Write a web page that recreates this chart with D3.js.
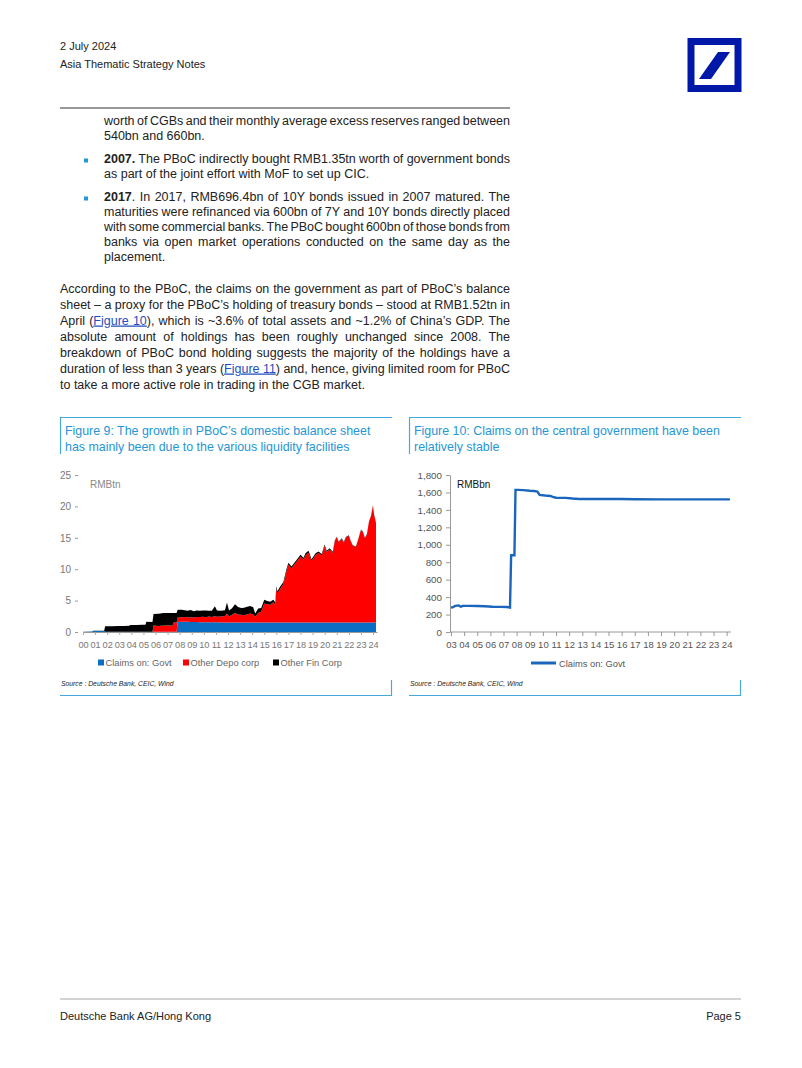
<!DOCTYPE html>
<html>
<head>
<meta charset="utf-8">
<script src="https://cdn.jsdelivr.net/npm/d3@7"></script>
<style>
  body { margin: 0; background: #fff; }
  svg { display: block; font-family: "Liberation Sans", Arial, sans-serif; }
</style>
</head>
<body>
<svg id="page" width="802" height="1068"></svg>
<script>
// ---- Figure 9 data (RMBtn) ----
const f9Dates = [
  "2000-01","2000-10","2000-11","2001-10","2001-11","2002-06","2002-12","2003-06","2003-11","2003-12",
  "2004-06","2004-12","2005-03","2005-04","2005-10","2005-11","2006-04","2006-09","2007-02","2007-06",
  "2007-07","2007-10","2007-11","2008-03","2008-06","2008-09","2008-12","2009-03","2009-06","2009-09",
  "2009-12","2010-03","2010-06","2010-09","2010-12","2011-02","2011-06","2011-10","2011-12","2012-02",
  "2012-05","2012-08","2012-11","2013-02","2013-05","2013-08","2013-11","2014-02","2014-04","2014-07",
  "2014-10","2015-01","2015-04","2015-07","2015-10","2015-12","2016-01","2016-02","2016-05","2016-08",
  "2016-11","2017-01","2017-04","2017-06","2017-10","2018-01","2018-04","2018-06","2018-09","2018-12",
  "2019-04","2019-07","2019-10","2020-01","2020-03","2020-06","2020-09","2020-11","2021-01","2021-03",
  "2021-06","2021-08","2021-10","2022-01","2022-03","2022-05","2022-08","2022-10","2023-01","2023-03",
  "2023-05","2023-07","2023-09","2023-11","2024-01","2024-02","2024-04"
]
const govtTn = [
  0.02,0.02,0.15,0.15,0.02,0.02,0.02,0.02,0.02,0.02,
  0.02,0.02,0.02,0.02,0.02,0.02,0.02,0.02,0.02,0.02,
  0.02,0.02,1.60,1.62,1.62,1.62,1.61,1.61,1.60,1.57,
  1.56,1.56,1.55,1.54,1.54,1.54,1.53,1.53,1.53,1.53,
  1.53,1.53,1.53,1.53,1.53,1.53,1.53,1.53,1.53,1.53,
  1.53,1.53,1.53,1.53,1.53,1.53,1.53,1.53,1.53,1.53,
  1.53,1.53,1.53,1.53,1.53,1.52,1.52,1.52,1.52,1.52,
  1.52,1.52,1.52,1.52,1.52,1.52,1.52,1.52,1.52,1.52,
  1.52,1.52,1.52,1.52,1.52,1.52,1.52,1.52,1.52,1.52,
  1.52,1.52,1.52,1.52,1.52,1.52,1.52
]
const depoTn = [
  0,0,0,0,0,0,0,0,0,0,
  0,0,0,0,0,1.00,0.95,1.00,1.00,1.00,
  1.50,1.50,0.70,0.72,0.75,0.70,0.75,0.70,0.78,0.80,
  0.85,0.80,0.90,0.85,1.00,0.90,0.95,1.00,1.40,0.95,
  1.20,1.50,1.25,1.20,1.15,1.30,1.40,1.30,0.90,1.50,
  1.70,3.00,2.90,2.80,3.20,2.80,5.45,4.60,5.40,6.10,
  8.10,9.20,8.60,9.00,9.85,10.50,10.00,10.70,11.10,9.80,
  10.75,11.05,10.65,12.20,11.20,11.60,11.10,12.90,13.55,12.80,
  13.30,12.70,13.50,13.80,12.90,12.20,12.00,13.00,14.70,14.40,
  13.40,14.00,16.00,16.90,18.60,17.20,15.80
]
const finTn = [
  0.03,0.04,0.05,0.06,0.88,0.90,0.93,0.92,0.96,1.08,
  1.10,1.12,1.12,1.60,1.58,1.85,1.95,2.00,2.00,2.00,
  1.50,1.50,1.25,1.20,1.10,1.05,1.15,1.00,1.05,1.00,
  1.00,1.05,0.95,1.00,1.55,1.00,0.90,0.95,1.77,0.95,
  1.05,1.40,1.20,1.10,1.20,1.20,1.20,1.10,0.50,0.70,
  0.60,0.60,0.50,0.50,0.40,0.40,0.35,0.35,0.35,0.35,
  0.35,0.30,0.30,0.30,0.30,0.30,0.30,0.30,0.30,0.25,
  0.25,0.25,0.25,0.20,0.20,0.20,0.15,0.15,0.10,0.10,
  0.10,0.10,0.10,0.08,0.08,0.08,0.08,0.08,0.08,0.08,
  0.08,0.08,0.08,0.08,0.08,0.08,0.08
]
const f9Series = ["Claims on: Govt", "Other Depo corp", "Other Fin Corp"]
const f9YTicks = [0, 5, 10, 15, 20, 25]
const f9YearLabels = ["00","01","02","03","04","05","06","07","08","09","10","11","12",
  "13","14","15","16","17","18","19","20","21","22","23","24"]

// ---- Figure 10 data (RMBbn) ----
const f10Dates = [
  "2003-01","2003-03","2003-05","2003-08","2003-10","2003-12","2004-06","2005-01","2005-08","2006-03",
  "2006-10","2007-04","2007-07","2007-08","2007-11","2007-12","2008-02","2008-07","2009-01","2009-05",
  "2009-08","2009-10","2010-03","2010-08","2010-10","2011-01","2011-10","2012-04","2012-10","2014-01",
  "2016-01","2017-01","2019-01","2021-01","2023-01","2024-04"
]
const govtBn = [
  280,285,300,305,290,300,300,298,295,290,
  288,286,280,880,880,1630,1630,1627,1620,1617,
  1610,1572,1565,1560,1550,1540,1538,1530,1525,1525,
  1525,1522,1520,1520,1520,1520
]
const f10Series = ["Claims on: Govt"]
const f10YTicks = [0, 200, 400, 600, 800, 1000, 1200, 1400, 1600, 1800]
const f10YLabels = ["0","200","400","600","800","1,000","1,200","1,400","1,600","1,800"]
const f10YearLabels = ["03","04","05","06","07","08","09","10","11","12","13","14",
  "15","16","17","18","19","20","21","22","23","24"]

// ---- page text ----
const bulletLines = [
  { lines: [
    ["worth of CGBs and their monthly average excess reserves ranged between", true],
    ["540bn and 660bn.", false]], bullet: false },
  { lines: [
    ["**2007.** The PBoC indirectly bought RMB1.35tn worth of government bonds", true],
    ["as part of the joint effort with MoF to set up CIC.", false]], bullet: true },
  { lines: [
    ["**2017**. In 2017, RMB696.4bn of 10Y bonds issued in 2007 matured. The", true],
    ["maturities were refinanced via 600bn of 7Y and 10Y bonds directly placed", true],
    ["with some commercial banks. The PBoC bought 600bn of those bonds from", true],
    ["banks via open market operations conducted on the same day as the", true],
    ["placement.", false]], bullet: true }
]
const paraLines = [
  ["According to the PBoC, the claims on the government as part of PBoC\u2019s balance", true],
  ["sheet \u2013 a proxy for the PBoC\u2019s holding of treasury bonds \u2013 stood at RMB1.52tn in", true],
  ["April ([Figure 10]), which is ~3.6% of total assets and ~1.2% of China\u2019s GDP. The", true],
  ["absolute amount of holdings has been roughly unchanged since 2008. The", true],
  ["breakdown of PBoC bond holding suggests the majority of the holdings have a", true],
  ["duration of less than 3 years ([Figure 11]) and, hence, giving limited room for PBoC", true],
  ["to take a more active role in trading in the CGB market.", false]
]

const blueTxt = "#2596d6"
const blueLine = "#45a8df"
const svg = d3.select("#page")

// header
svg.append("text").attr("x", 60).attr("y", 50).style("font-size", "11px").attr("fill", "#222").text("2 July 2024")
svg.append("text").attr("x", 60).attr("y", 68).style("font-size", "11px").attr("fill", "#222").text("Asia Thematic Strategy Notes")

// logo
svg.append("rect").attr("x", 691).attr("y", 41.5).attr("width", 47).attr("height", 47)
  .attr("fill", "none").attr("stroke", "#0018a8").attr("stroke-width", 7)
svg.append("polygon").attr("points", "718,52 730,52 711,79 699,79").attr("fill", "#0018a8")

svg.append("line").attr("x1", 60).attr("x2", 510).attr("y1", 108).attr("y2", 108)
  .attr("stroke", "#333").attr("stroke-width", 1)

// justified line of body text
function textLine(x, y, width, str, justify) {
  const t = svg.append("text").attr("x", x).attr("y", y)
    .style("font-size", "12.5px").attr("fill", "#222")
  const parts = str.split(/(\*\*[^*]+\*\*|\[[^\]]+\])/).filter(s => s.length)
  parts.forEach(p => {
    if (p.startsWith("**")) {
      t.append("tspan").style("font-weight", "bold").text(p.slice(2, -2))
    } else if (p.startsWith("[")) {
      t.append("tspan").attr("fill", "#1f4ec0").style("text-decoration", "underline").text(p.slice(1, -1))
    } else {
      t.append("tspan").text(p)
    }
  })
  if (justify) {
    const natural = t.node().getComputedTextLength()
    const plain = str.replace(/\*\*|\[|\]/g, "")
    const spaces = (plain.match(/ /g) || []).length
    if (spaces) t.style("word-spacing", ((width - natural) / spaces) + "px")
  }
}

let yy = 124.5
bulletLines.forEach((blk, bi) => {
  if (bi > 0) yy += 8
  blk.lines.forEach((ln, li) => {
    if (blk.bullet && li === 0) {
      svg.append("rect").attr("x", 84).attr("y", yy - 4).attr("width", 4).attr("height", 4).attr("fill", blueTxt)
    }
    textLine(104, yy, 406, ln[0], ln[1])
    yy += 15
  })
})
yy = 292.5
paraLines.forEach(ln => {
  textLine(60, yy, 450, ln[0], ln[1])
  yy += 16
})

// figure frames
function figFrame(x0, x1, title) {
  svg.append("line").attr("x1", x0).attr("x2", x1).attr("y1", 417.5).attr("y2", 417.5)
    .attr("stroke", blueLine).attr("stroke-width", 1.2)
  svg.append("line").attr("x1", x0 + 0.5).attr("x2", x0 + 0.5).attr("y1", 417).attr("y2", 454)
    .attr("stroke", blueLine).attr("stroke-width", 1.2)
  title.forEach((s, i) => {
    svg.append("text").attr("x", x0 + 5).attr("y", 435 + i * 16).style("font-size", "12.4px")
      .attr("fill", blueTxt).text(s)
  })
  svg.append("text").attr("x", x0 + 1).attr("y", 686).style("font-size", "6.8px")
    .style("font-style", "italic").attr("fill", "#222").text("Source : Deutsche Bank, CEIC, Wind")
  svg.append("line").attr("x1", x0).attr("x2", x1).attr("y1", 695.5).attr("y2", 695.5)
    .attr("stroke", blueLine).attr("stroke-width", 1.2)
  svg.append("line").attr("x1", x1 - 0.5).attr("x2", x1 - 0.5).attr("y1", 680).attr("y2", 696)
    .attr("stroke", blueLine).attr("stroke-width", 1.2)
}
figFrame(60, 392, ["Figure 9: The growth in PBoC\u2019s domestic balance sheet",
  "has mainly been due to the various liquidity facilities"])
figFrame(409, 741, ["Figure 10: Claims on the central government have been",
  "relatively stable"])

// ---- Figure 9: stacked area ----
const parseM = d3.timeParse("%Y-%m")
const x9 = d3.scaleTime().domain([parseM("2000-01"), parseM("2024-05")]).range([83, 377])
const y9 = d3.scaleLinear().domain([0, 25]).range([632, 475])
const rows9 = f9Dates.map((d, i) => ({ date: parseM(d), govt: govtTn[i], depo: depoTn[i], fin: finTn[i] }))
const stacked = d3.stack().keys(["govt", "depo", "fin"])(rows9)
const colors9 = ["#0a6fc2", "#ff0000", "#000000"]
const area9 = d3.area().x(d => x9(d.data.date)).y0(d => y9(d[0])).y1(d => y9(d[1]))

const g9 = svg.append("g")
g9.selectAll("path.area").data(stacked).enter().append("path")
  .attr("class", "area").attr("d", area9).attr("fill", (d, i) => colors9[i])

const yAx9 = g9.append("g").attr("transform", "translate(78,0)")
  .call(d3.axisLeft(y9).tickValues(f9YTicks).tickSize(3).tickPadding(4))
yAx9.select(".domain").remove()
yAx9.selectAll("line").attr("stroke", "#999")
yAx9.selectAll("text").style("font-size", "10px").attr("fill", "#777").style("font-family", "Liberation Sans, Arial")

const yearDates9 = f9YearLabels.map((s, i) => new Date(2000 + i, 0, 1))
const xAx9 = g9.append("g").attr("transform", "translate(0,632)")
  .call(d3.axisBottom(x9).tickValues(yearDates9).tickSize(3).tickSizeOuter(0).tickPadding(6)
    .tickFormat((d, i) => f9YearLabels[i]))
xAx9.select(".domain").attr("stroke", "#999")
xAx9.selectAll("line").attr("stroke", "#aaa")
xAx9.selectAll("text").style("font-size", "9.2px").attr("fill", "#777").style("font-family", "Liberation Sans, Arial")

g9.append("text").attr("x", 90).attr("y", 488).style("font-size", "10px").attr("fill", "#888").text("RMBtn")

const leg9X = [98, 183, 273]
f9Series.forEach((s, i) => {
  g9.append("rect").attr("x", leg9X[i]).attr("y", 659.5).attr("width", 6).attr("height", 6).attr("fill", colors9[i])
  g9.append("text").attr("x", leg9X[i] + 7.5).attr("y", 666).style("font-size", "9.3px").attr("fill", "#666").text(s)
})

// ---- Figure 10: line ----
const x10 = d3.scaleTime().domain([parseM("2003-01"), parseM("2024-05")]).range([451, 731])
const y10 = d3.scaleLinear().domain([0, 1800]).range([632, 475])
const rows10 = f10Dates.map((d, i) => ({ date: parseM(d), v: govtBn[i] }))
const g10 = svg.append("g")

const yAx10 = g10.append("g").attr("transform", "translate(450,0)")
  .call(d3.axisLeft(y10).tickValues(f10YTicks).tickSize(4).tickSizeOuter(0).tickPadding(4)
    .tickFormat((d, i) => f10YLabels[i]))
yAx10.selectAll("line, .domain").attr("stroke", "#999")
yAx10.selectAll("text").style("font-size", "9.8px").attr("fill", "#555").style("font-family", "Liberation Sans, Arial")

const yearDates10 = f10YearLabels.map((s, i) => new Date(2003 + i, 0, 1))
const xAx10 = g10.append("g").attr("transform", "translate(0,632)")
  .call(d3.axisBottom(x10).tickValues(yearDates10).tickSize(4).tickSizeOuter(0).tickPadding(5)
    .tickFormat((d, i) => f10YearLabels[i]))
xAx10.select(".domain").attr("d", "M450,0H731")
xAx10.selectAll("line, .domain").attr("stroke", "#999")
xAx10.selectAll("text").style("font-size", "9.5px").attr("fill", "#555").style("font-family", "Liberation Sans, Arial")

g10.append("path").datum(rows10)
  .attr("d", d3.line().x(d => x10(d.date)).y(d => y10(d.v)))
  .attr("fill", "none").attr("stroke", "#1a66bd").attr("stroke-width", 2.4)

g10.append("text").attr("x", 457).attr("y", 488).style("font-size", "10px").attr("fill", "#111").text("RMBbn")

g10.append("line").attr("x1", 531).attr("x2", 556).attr("y1", 663).attr("y2", 663)
  .attr("stroke", "#1a66bd").attr("stroke-width", 3)
g10.append("text").attr("x", 559).attr("y", 666.5).style("font-size", "9.3px").attr("fill", "#555").text(f10Series[0])

// footer
svg.append("line").attr("x1", 60).attr("x2", 741).attr("y1", 999).attr("y2", 999)
  .attr("stroke", "#c4c4c4").attr("stroke-width", 1.5)
svg.append("text").attr("x", 60).attr("y", 1020).style("font-size", "11px").attr("fill", "#222").text("Deutsche Bank AG/Hong Kong")
svg.append("text").attr("x", 741).attr("y", 1020).attr("text-anchor", "end").style("font-size", "11px").attr("fill", "#222").text("Page 5")
</script>
</body>
</html>
